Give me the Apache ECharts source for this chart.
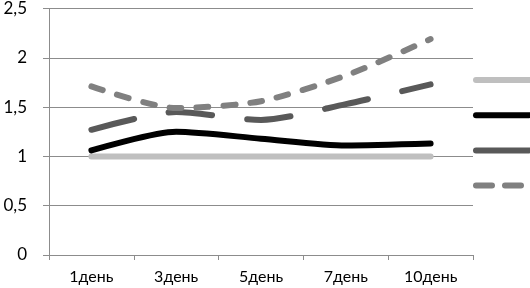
<!DOCTYPE html>
<html><head><meta charset="utf-8">
<script src="https://cdn.jsdelivr.net/npm/echarts@6/dist/echarts.min.js"></script>
<style>html,body{margin:0;padding:0;background:#fff}#c{width:530px;height:288px}</style>
</head><body><div id="c"></div>
<script>
const categories = ['1день', '3день', '5день', '7день', '10день'];
const seriesNames = ['s1', 's2', 's3', 's4'];
const s1 = [1, 1, 1, 1, 1];
const s2 = [1.06, 1.25, 1.18, 1.11, 1.13];
const s3 = [1.27, 1.45, 1.37, 1.53, 1.73];
const s4 = [1.71, 1.49, 1.56, 1.82, 2.19];
const yTicks = { min: 0, max: 2.5, interval: 0.5 };

const chart = echarts.init(document.getElementById('c'));
const font = 'Lato, "Open Sans", sans-serif';
function mk(name, data, color, dash) {
  return {
    name, type: 'line', data, symbol: 'none', smooth: 0.25,
    lineStyle: { color, width: 6, type: dash || 'solid', cap: 'round', join: 'round' },
    itemStyle: { color }
  };
}
chart.setOption({
  animation: false,
  grid: { left: 49, right: 57, top: 7, bottom: 33 },
  legend: {
    orient: 'vertical', left: 473, top: 76, padding: 0,
    itemWidth: 53, itemHeight: 8, itemGap: 28,
    formatter: () => '',
    itemStyle: { opacity: 0 },
    lineStyle: { width: 6, cap: 'round', type: 'inherit' },
    data: [
      { name: seriesNames[0] },
      { name: seriesNames[1] },
      { name: seriesNames[2], lineStyle: { type: 'solid' } },
      { name: seriesNames[3], lineStyle: { type: [16, 13] } }
    ]
  },
  xAxis: {
    type: 'category', data: categories, boundaryGap: true,
    axisLine: { lineStyle: { color: '#8c8c8c', width: 1 } },
    axisTick: { show: true, length: 5, lineStyle: { color: '#8c8c8c' } },
    axisLabel: { color: '#000', fontSize: 16, fontFamily: font, margin: 14 }
  },
  yAxis: {
    type: 'value', min: yTicks.min, max: yTicks.max, interval: yTicks.interval,
    axisLine: { show: true, lineStyle: { color: '#8c8c8c', width: 1 } },
    axisTick: { show: true, length: 6, lineStyle: { color: '#8c8c8c' } },
    splitLine: { lineStyle: { color: '#8c8c8c', width: 1 } },
    axisLabel: { color: '#000', fontSize: 17, fontFamily: font, margin: 22,
      formatter: v => String(v).replace('.', ',') }
  },
  series: [
    mk('s1', s1, '#bfbfbf'),
    mk('s2', s2, '#000000'),
    mk('s3', s3, '#595959', [44, 35]),
    mk('s4', s4, '#808080', [12, 15])
  ]
});
</script></body></html>
